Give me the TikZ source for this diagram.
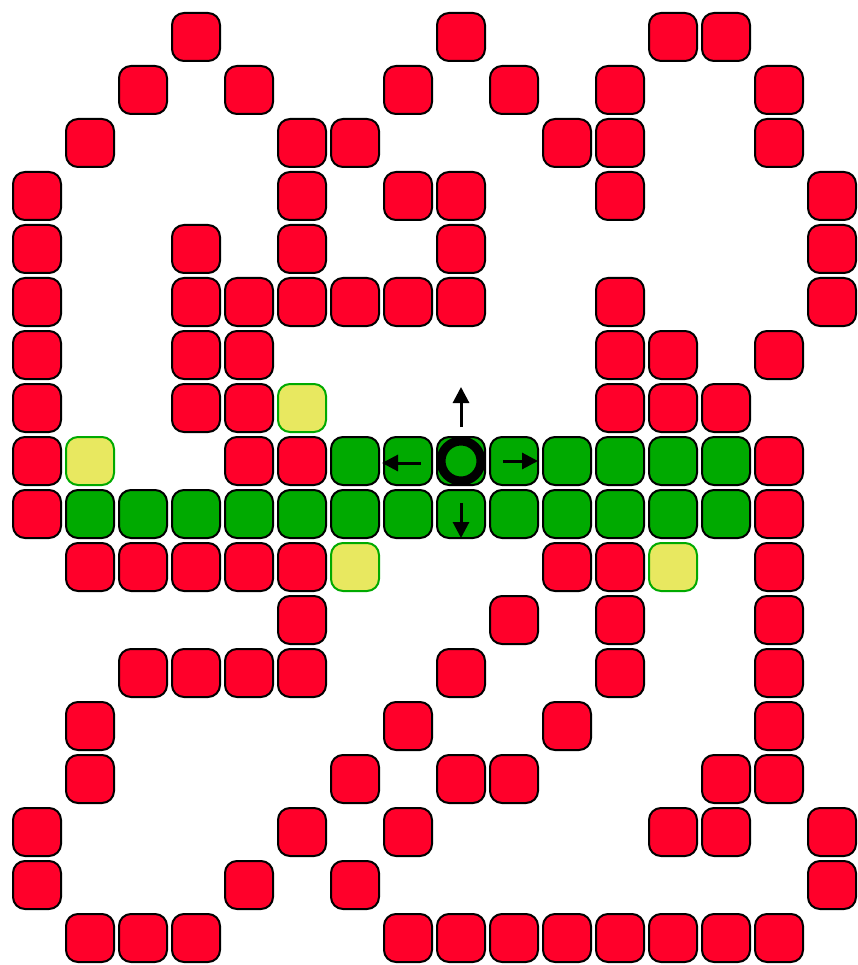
\documentclass[tikz,border=0pt]{standalone}
\usetikzlibrary{arrows.meta}
\definecolor{wallred}{RGB}{255,0,42}
\definecolor{pathgreen}{RGB}{0,170,0}
\definecolor{openyellow}{RGB}{232,232,96}
\tikzset{
  cellbase/.style={rectangle, minimum size=48pt, inner sep=0pt, rounded corners=12pt, line width=2pt},
  wall/.style={cellbase, draw=black, fill=wallred},
  trail/.style={cellbase, draw=black, fill=pathgreen},
  frontier/.style={cellbase, draw=pathgreen, fill=openyellow},
  mover/.style={-{Triangle[length=16pt,width=16pt]}, line width=3pt, black},
  ring/.style={circle, draw=black, line width=9pt, minimum size=40pt, inner sep=0pt}
}
\begin{document}
\begin{tikzpicture}[x=1pt,y=-1pt]
\useasboundingbox (0,0) rectangle (857,965);
% walls: row/col
\foreach \r/\c in {0/3,0/8,0/12,0/13,
 1/2,1/4,1/7,1/9,1/11,1/14,
 2/1,2/5,2/6,2/10,2/11,2/14,
 3/0,3/5,3/7,3/8,3/11,3/15,
 4/0,4/3,4/5,4/8,4/15,
 5/0,5/3,5/4,5/5,5/6,5/7,5/8,5/11,5/15,
 6/0,6/3,6/4,6/11,6/12,6/14,
 7/0,7/3,7/4,7/11,7/12,7/13,
 8/0,8/4,8/5,8/14,
 9/0,9/14,
 10/1,10/2,10/3,10/4,10/5,10/10,10/11,10/14,
 11/5,11/9,11/11,11/14,
 12/2,12/3,12/4,12/5,12/8,12/11,12/14,
 13/1,13/7,13/10,13/14,
 14/1,14/6,14/8,14/9,14/13,14/14,
 15/0,15/5,15/7,15/12,15/13,15/15,
 16/0,16/4,16/6,16/15,
 17/1,17/2,17/3,17/7,17/8,17/9,17/10,17/11,17/12,17/13,17/14}
 \node[wall] (w-\r-\c) at ({37+53*\c},{37+53*\r}) {};
% green trail
\foreach \r/\c in {8/6,8/7,8/8,8/9,8/10,8/11,8/12,8/13,
 9/1,9/2,9/3,9/4,9/5,9/6,9/7,9/8,9/9,9/10,9/11,9/12,9/13}
 \node[trail] (g-\r-\c) at ({37+53*\c},{37+53*\r}) {};
% yellow frontier
\foreach \r/\c in {7/5,8/1,10/6,10/12}
 \node[frontier] (y-\r-\c) at ({37+53*\c},{37+53*\r}) {};
% current cell ring
\node[ring] (cur) at (g-8-8.center) {};
% arrows
\coordinate (upS) at (461,427);
\coordinate (upE) at (461,387);
\draw[mover] (upS) -- (upE);
\coordinate (lfS) at (421,463);
\coordinate (lfE) at (382,463);
\draw[mover] (lfS) -- (lfE);
\coordinate (rtS) at (503,461);
\coordinate (rtE) at (538,461);
\draw[mover] (rtS) -- (rtE);
\coordinate (dnS) at (461,503);
\coordinate (dnE) at (461,538);
\draw[mover] (dnS) -- (dnE);
\end{tikzpicture}
\end{document}
